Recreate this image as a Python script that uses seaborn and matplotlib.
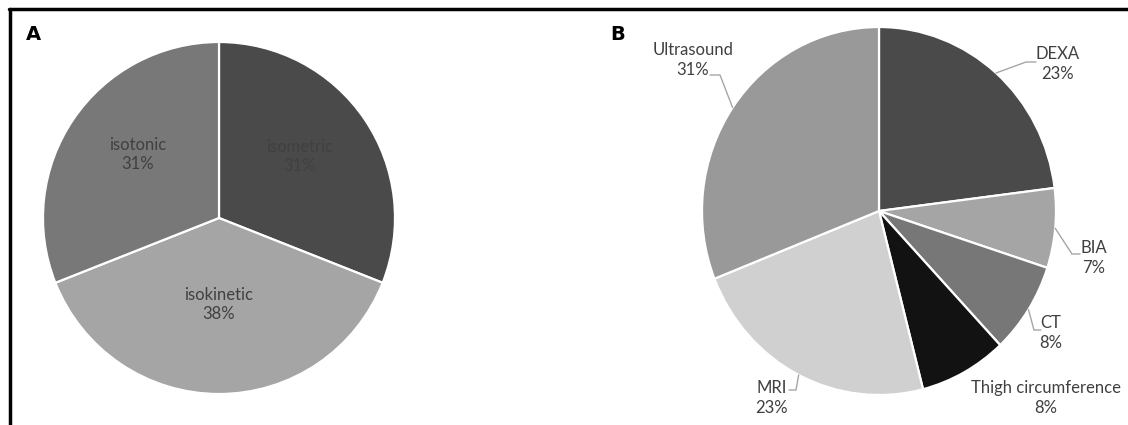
import numpy as np
import matplotlib
matplotlib.use("Agg")
import matplotlib.pyplot as plt
from matplotlib.lines import Line2D
import seaborn as sns

# ---- data ----
a_labels = ["isometric", "isokinetic", "isotonic"]
a_values = [31, 38, 31]
a_colors = ["#4a4a4a", "#a5a5a5", "#787878"]

b_labels = ["DEXA", "BIA", "CT", "Thigh circumference", "MRI", "Ultrasound"]
b_values = [23, 7, 8, 8, 23, 31]
b_colors = ["#4a4a4a", "#a5a5a5", "#777777", "#121212", "#d0d0d0", "#999999"]

sns.set_theme(style="white")
plt.rcParams["font.family"] = ["Lato", "DejaVu Sans"]

W, H = 1128, 425
fig = plt.figure(figsize=(W / 100, H / 100), dpi=100)
TXT = "#404040"
FS = 12


def pie_axes(cx, cy, rx, ry):
    # place an axes so that the unit circle maps to a pixel box
    return fig.add_axes([(cx - rx) / W, (H - cy - ry) / H, 2 * rx / W, 2 * ry / H])


def draw_pie(ax, values, colors):
    wedges, _ = ax.pie(values, colors=colors, startangle=90, counterclock=False,
                       wedgeprops=dict(edgecolor="white", linewidth=1.6))
    ax.set_xlim(-1, 1)
    ax.set_ylim(-1, 1)
    ax.set_aspect("auto")
    ax.axis("off")
    return wedges


# ---- panel A ----
axA = pie_axes(219, 218, 176, 176)
draw_pie(axA, a_values, a_colors)
# inside label positions (layout, in pie radius units)
a_pos = [(0.46, 0.35), (0.0, -0.49), (-0.46, 0.36)]
for lab, val, (x, y) in zip(a_labels, a_values, a_pos):
    axA.text(x, y, f"{lab}\n{val}%", ha="center", va="center", fontsize=FS,
             color=TXT, linespacing=1.25)

# ---- panel B ----
cxB, cyB, rxB, ryB = 879, 211, 177, 184
axB = pie_axes(cxB, cyB, rxB, ryB)
wB = draw_pie(axB, b_values, b_colors)


def px(p):
    return ((p[0] - cxB) / rxB, (cyB - p[1]) / ryB)


# label centre, leader elbow and leader end (pixels; None = no leader)
b_text = [(1058, 64), (1094, 258), (1051, 333), (1046, 398), (772, 398), (693, 60)]
b_elbow = [(1026, 62), (1072, 254), (1034, 330), None, (796, 390), (720, 75)]
b_end = [(1036, 62), (1080, 254), (1041, 330), None, (789, 390), (710, 75)]

for w, lab, val, t, e, f in zip(wB, b_labels, b_values, b_text, b_elbow, b_end):
    tx, ty = px(t)
    axB.text(tx, ty, f"{lab}\n{val}%", ha="center", va="center", fontsize=FS,
             color=TXT, linespacing=1.25)
    if e is not None:
        mid = np.deg2rad((w.theta1 + w.theta2) / 2)
        edge = (np.cos(mid), np.sin(mid))
        pts = [edge, px(e), px(f)]
        axB.plot([p[0] for p in pts], [p[1] for p in pts], color="#a6a6a6",
                 lw=1, clip_on=False)

# ---- panel letters and frame ----
fig.text(26 / W, 1 - 35 / H, "A", fontsize=14, fontweight="bold",
         family="DejaVu Sans", va="center", ha="left", color="black")
fig.text(610 / W, 1 - 34 / H, "B", fontsize=14, fontweight="bold",
         family="DejaVu Sans", va="center", ha="left", color="black")
fig.add_artist(Line2D([9 / W, 1], [1 - 9 / H, 1 - 9 / H], color="black", lw=2.5,
                      transform=fig.transFigure))
fig.add_artist(Line2D([10 / W, 10 / W], [0, 1 - 9 / H], color="black", lw=2.5,
                      transform=fig.transFigure))

fig.savefig("out.png", dpi=100, facecolor="white")
